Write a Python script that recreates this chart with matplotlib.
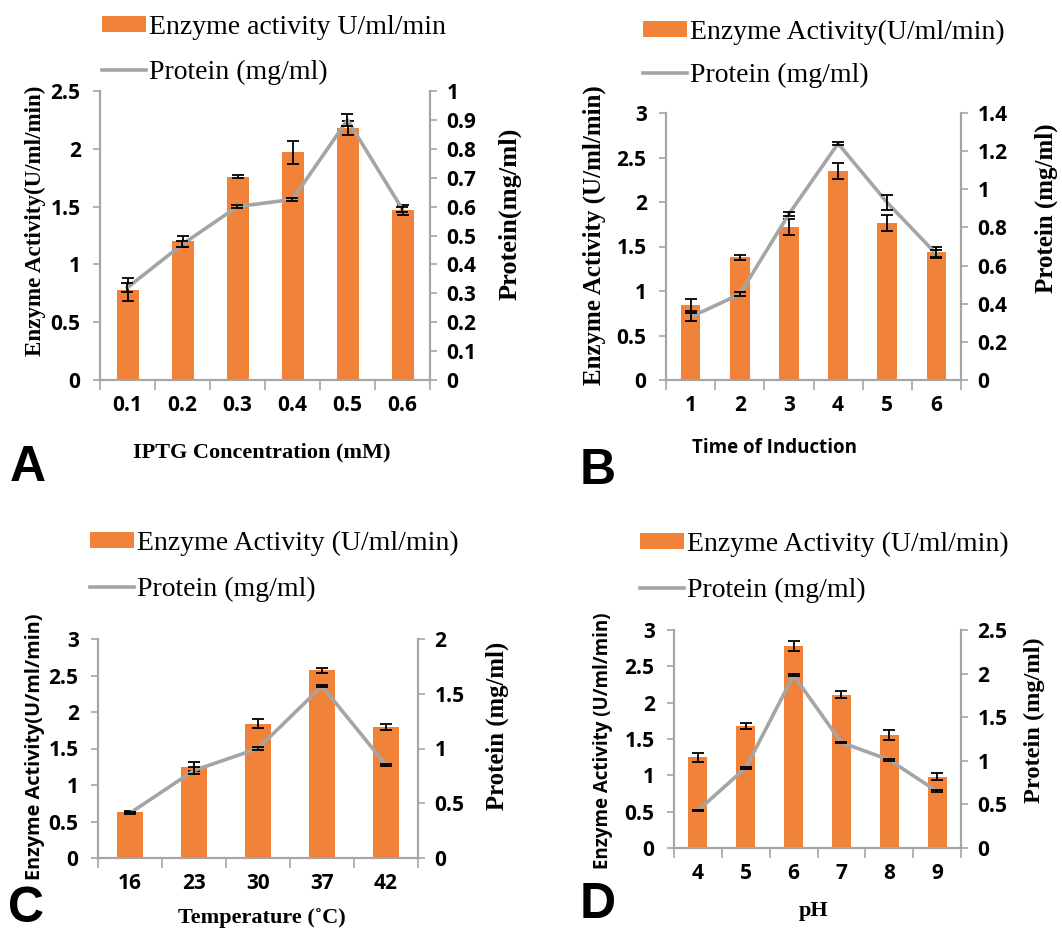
import numpy as np
import matplotlib
matplotlib.use('Agg')
import matplotlib.pyplot as plt

# ---------------------------------------------------------- #
# Data

iptg_cats = ['0.1', '0.2', '0.3', '0.4', '0.5', '0.6']
iptg_act = [0.78, 1.20, 1.76, 1.97, 2.18, 1.47]
iptg_act_err = [0.10, 0.05, 0.015, 0.10, 0.06, 0.04]
iptg_prot = [0.32, 0.47, 0.60, 0.625, 0.90, 0.59]
iptg_prot_err = [0.015, 0.01, 0.005, 0.005, 0.02, 0.01]

time_cats = ['1', '2', '3', '4', '5', '6']
time_act = [0.84, 1.38, 1.72, 2.35, 1.76, 1.44]
time_act_err = [0.07, 0.03, 0.09, 0.09, 0.09, 0.06]
time_prot = [0.33, 0.45, 0.87, 1.24, 0.93, 0.66]
time_prot_err = [0.02, 0.01, 0.01, 0.01, 0.04, 0.02]

temp_cats = ['16', '23', '30', '37', '42']
temp_act = [0.63, 1.25, 1.84, 2.57, 1.80]
temp_act_err = [0.01, 0.06, 0.06, 0.03, 0.04]
temp_prot = [0.41, 0.80, 1.00, 1.57, 0.85]
temp_prot_err = [0.01, 0.03, 0.01, 0.01, 0.01]

ph_cats = ['4', '5', '6', '7', '8', '9']
ph_act = [1.25, 1.68, 2.78, 2.11, 1.56, 0.98]
ph_act_err = [0.06, 0.04, 0.07, 0.05, 0.07, 0.05]
ph_prot = [0.43, 0.92, 1.98, 1.21, 1.01, 0.65]
ph_prot_err = [0.01, 0.01, 0.01, 0.01, 0.01, 0.01]

# ---------------------------------------------------------- #

W, H = 1062, 934
ORANGE = '#F0823A'
GREY = '#A5A5A5'
SERIF = 'Liberation Serif'
SANS = 'Open Sans'

fig = plt.figure(figsize=(W/100, H/100), dpi=100)


def rect(x0, y0, x1, y1):
    return [x0/W, 1 - y1/H, (x1-x0)/W, (y1-y0)/H]


def panel(px, cats, act, act_err, prot, prot_err, lim1, lim2, step2,
          ylab, ylab_font, y2lab, xlab, xlab_font, sizes, pos, leg, letter):
    x0, y0, x1, y1 = px
    ax = fig.add_axes(rect(x0, y0, x1, y1))
    ax2 = ax.twinx()
    n = len(cats)
    x = np.arange(n)

    bars = ax.bar(x, act, width=0.4, color=ORANGE, zorder=2)
    ax.errorbar(x, act, yerr=act_err, fmt='none', ecolor='black',
                elinewidth=1.3, capsize=4, capthick=1.3, zorder=3)
    line, = ax2.plot(x, prot, color=GREY, lw=2.6, zorder=4)
    ax2.errorbar(x, prot, yerr=prot_err, fmt='none', ecolor='black',
                 elinewidth=1.3, capsize=4, capthick=1.3, zorder=5)

    ax.set_xlim(-0.5, n - 0.5)
    ax.set_ylim(0, lim1)
    ax2.set_ylim(0, lim2)
    t1 = np.arange(0, lim1 + 0.01, 0.5)
    t2 = np.arange(0, lim2 + 0.001, step2)
    ax.set_yticks(t1, [f'{v:g}' for v in t1])
    ax2.set_yticks(t2, [f'{round(v, 2):g}' for v in t2])
    ax.set_xticks(np.arange(n + 1) - 0.5, [''] * (n + 1))
    ax.set_xticks(x, cats, minor=True)

    for a in (ax, ax2):
        for s in a.spines.values():
            s.set_color(GREY)
            s.set_linewidth(1.5)
        a.spines['top'].set_visible(False)
    ax.tick_params(axis='y', length=5, width=1.2, color=GREY, pad=9)
    ax2.tick_params(axis='y', length=5, width=1.2, color=GREY, pad=7)
    ax.tick_params(axis='x', which='major', length=7, width=1.2, color=GREY)
    ax.tick_params(axis='x', which='minor', length=0, pad=11)
    for lab in ax.get_yticklabels() + ax2.get_yticklabels() + ax.get_xticklabels(minor=True):
        lab.set_fontfamily(SANS)
        lab.set_fontweight('bold')
        lab.set_fontsize(15)

    w = x1 - x0
    h = y1 - y0
    ax.set_ylabel(ylab, family=ylab_font, weight='bold', fontsize=sizes[0])
    ax.yaxis.set_label_coords((pos[0] - x0)/w, (y1 - pos[1])/h)
    ax.yaxis.label.set_va('center')
    ax2.set_ylabel(y2lab, family=SERIF, weight='bold', fontsize=sizes[1], rotation=90)
    ax2.yaxis.set_label_coords((pos[2] - x0)/w, (y1 - pos[3])/h)
    ax2.yaxis.label.set_va('center')
    ax.set_xlabel(xlab, family=xlab_font, weight='bold', fontsize=sizes[2])
    ax.xaxis.set_label_coords((pos[4] - x0)/w, (y1 - pos[5])/h)
    ax.xaxis.label.set_va('center')

    fig.legend([bars, line], [leg, 'Protein (mg/ml)'], loc='upper left',
               bbox_to_anchor=(leg_pos[letter][0]/W, 1 - leg_pos[letter][1]/H),
               frameon=False, prop={'family': SERIF, 'size': 20},
               handlelength=1.6, handleheight=0.5, handletextpad=0.1,
               labelspacing=leg_pos[letter][2], borderpad=0, borderaxespad=0)
    fig.text(letter_pos[letter][0]/W, 1 - letter_pos[letter][1]/H, letter,
             family='Liberation Sans', weight='bold', fontsize=36,
             ha='left', va='baseline')


leg_pos = {'A': (102, 15, 0.72), 'B': (643, 20, 0.62),
           'C': (90, 531, 0.75), 'D': (640, 532, 0.75)}
letter_pos = {'A': (10, 481), 'B': (580, 484), 'C': (8, 922), 'D': (580, 918)}

panel((100, 91, 430, 380), iptg_cats, iptg_act, iptg_act_err, iptg_prot,
      iptg_prot_err, 2.5, 1.0, 0.1,
      'Enzyme Activity(U/ml/min)', SERIF, 'Protein(mg/ml)',
      'IPTG Concentration (mM)', SERIF, (16.6, 19, 16),
      (35, 221, 510, 214, 262, 452),
      'Enzyme activity U/ml/min', 'A')

panel((666, 113, 961, 380), time_cats, time_act, time_act_err, time_prot,
      time_prot_err, 3.0, 1.4, 0.2,
      'Enzyme Activity (U/ml/min)', SERIF, 'Protein (mg/ml)',
      'Time of Induction', SANS, (18, 18, 13.5),
      (594, 235, 1046, 208, 775, 448),
      'Enzyme Activity(U/ml/min)', 'B')

panel((98, 639, 418, 858), temp_cats, temp_act, temp_act_err, temp_prot,
      temp_prot_err, 3.0, 2.0, 0.5,
      'Enzyme Activity(U/ml/min)', SANS, 'Protein (mg/ml)',
      'Temperature (˚C)', SERIF, (14.3, 17.8, 16),
      (35, 747, 497, 726, 262, 918),
      'Enzyme Activity (U/ml/min)', 'C')

panel((674, 630, 961, 848), ph_cats, ph_act, ph_act_err, ph_prot,
      ph_prot_err, 3.0, 2.5, 0.5,
      'Enzyme Activity (U/ml/min)', SANS, 'Protein (mg/ml)',
      'pH', SERIF, (13.5, 17.6, 16),
      (603, 741, 1034, 720, 814, 911),
      'Enzyme Activity (U/ml/min)', 'D')

fig.savefig('out.png', dpi=100)
